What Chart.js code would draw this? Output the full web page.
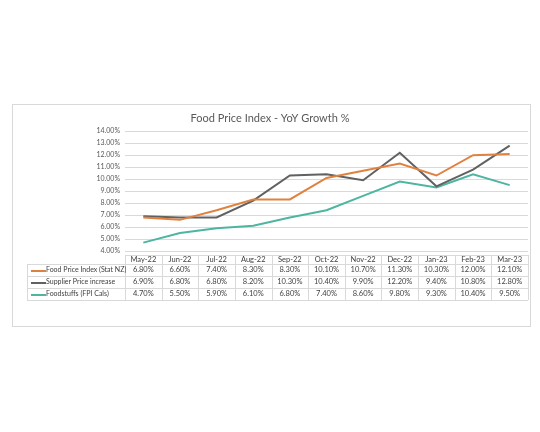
<!DOCTYPE html>
<html>
<head>
<meta charset="utf-8">
<script src="https://cdn.jsdelivr.net/npm/chart.js@4/dist/chart.umd.min.js"></script>
<style>
  html, body { margin: 0; padding: 0; background: #fff; }
  #wrap { position: relative; width: 540px; height: 432px; }
  #marco { position: absolute; left: 12px; top: 104px; width: 517px; height: 221px; border: 1px solid #d9d9d9; }
  #grafica { position: absolute; left: 0; top: 0; }
</style>
</head>
<body>
<div id="wrap">
  <div id="marco"></div>
  <canvas id="grafica" width="540" height="432"></canvas>
</div>
<script>
// Datos (YoY %)
const meses = ['May-22', 'Jun-22', 'Jul-22', 'Aug-22', 'Sep-22', 'Oct-22', 'Nov-22', 'Dec-22', 'Jan-23', 'Feb-23', 'Mar-23'];
const fpiStatNZ   = [6.8, 6.6, 7.4, 8.3, 8.3, 10.1, 10.7, 11.3, 10.3, 12.0, 12.1];
const proveedores = [6.9, 6.8, 6.8, 8.2, 10.3, 10.4, 9.9, 12.2, 9.4, 10.8, 12.8];
const foodstuffs  = [4.7, 5.5, 5.9, 6.1, 6.8, 7.4, 8.6, 9.8, 9.3, 10.4, 9.5];
const nombres = ['Food Price Index (Stat NZ)', 'Supplier Price increase', 'Foodstuffs (FPI Cals)'];
const colores = ['#E0823F', '#616161', '#4DB5A1'];

const FUENTE = 'Lato, "Open Sans", sans-serif';
const pct = v => v.toFixed(2) + '%';

// ── TABLA DE DATOS BAJO EL EJE ──
const tablaDatos = {
  id: 'tablaDatos',
  afterDraw(chart) {
    const ctx = chart.ctx;
    const x = chart.scales.x;
    const area = chart.chartArea;
    const anchoCol = x.width / meses.length;
    const izq = 27;
    const altoCab = 9;
    const altoFila = 12;
    const top = area.bottom + 4;
    const series = [fpiStatNZ, proveedores, foodstuffs];

    ctx.save();
    ctx.strokeStyle = '#d9d9d9';
    ctx.lineWidth = 1;
    ctx.fillStyle = '#404040';
    ctx.textBaseline = 'middle';
    ctx.textAlign = 'center';
    const fuenteValores = '7.5px ' + FUENTE;
    const fuenteNombres = '7px ' + FUENTE;
    ctx.font = fuenteValores;

    // cabecera
    const yCab = top + altoCab / 2 + 0.5;
    meses.forEach((m, i) => ctx.fillText(m, x.getPixelForValue(i), yCab));

    // líneas horizontales
    const lineaH = (y, x0, x1) => { ctx.beginPath(); ctx.moveTo(x0, Math.round(y) + 0.5); ctx.lineTo(x1, Math.round(y) + 0.5); ctx.stroke(); };
    lineaH(top, area.left, area.right);
    for (let r = 0; r <= series.length; r++) lineaH(top + altoCab + r * altoFila, izq, area.right);
    const fondo = top + altoCab + series.length * altoFila;

    // líneas verticales
    const lineaV = (xx, y0, y1) => { ctx.beginPath(); ctx.moveTo(Math.round(xx) + 0.5, y0); ctx.lineTo(Math.round(xx) + 0.5, y1); ctx.stroke(); };
    lineaV(izq, top + altoCab, fondo);
    for (let i = 0; i <= meses.length; i++) lineaV(area.left + i * anchoCol, top, fondo);

    // filas
    series.forEach((serie, r) => {
      const yc = top + altoCab + r * altoFila + altoFila / 2;
      ctx.strokeStyle = colores[r];
      ctx.lineWidth = 2;
      ctx.beginPath(); ctx.moveTo(31, yc + 1); ctx.lineTo(46, yc + 1); ctx.stroke();
      ctx.strokeStyle = '#d9d9d9';
      ctx.lineWidth = 1;
      ctx.textAlign = 'left';
      ctx.font = fuenteNombres;
      ctx.fillText(nombres[r], 46, yc);
      ctx.textAlign = 'center';
      ctx.font = fuenteValores;
      serie.forEach((v, i) => ctx.fillText(pct(v), x.getPixelForValue(i), yc));
    });
    ctx.restore();
  }
};

const ctx = document.getElementById('grafica').getContext('2d');
new Chart(ctx, {
  type: 'line',
  data: {
    labels: meses,
    datasets: [fpiStatNZ, proveedores, foodstuffs].map((d, i) => ({
      label: nombres[i],
      data: d,
      borderColor: colores[i],
      backgroundColor: colores[i],
      borderWidth: 2,
      pointRadius: 0,
      tension: 0,
    }))
  },
  options: {
    responsive: false,
    animation: false,
    layout: { padding: { left: 12, right: 12, top: 110, bottom: 181 } },
    plugins: {
      legend: { display: false },
      tooltip: { enabled: false },
      title: {
        display: true,
        text: 'Food Price Index - YoY Growth %',
        color: '#595959',
        font: { family: FUENTE, size: 11, weight: 'normal' },
        padding: { top: 2, bottom: 6 }
      }
    },
    scales: {
      x: {
        offset: true,
        ticks: { display: false },
        grid: { display: false },
        border: { display: false },
        afterFit: s => { s.height = 0; }
      },
      y: {
        min: 4,
        max: 14,
        ticks: {
          stepSize: 1,
          autoSkip: false,
          padding: 5,
          color: '#595959',
          font: { family: FUENTE, size: 7 },
          callback: v => pct(v)
        },
        grid: { color: '#d9d9d9', drawTicks: false },
        border: { display: false },
        afterFit: s => { s.width = 113; }
      }
    }
  },
  plugins: [tablaDatos]
});
</script>
</body>
</html>
